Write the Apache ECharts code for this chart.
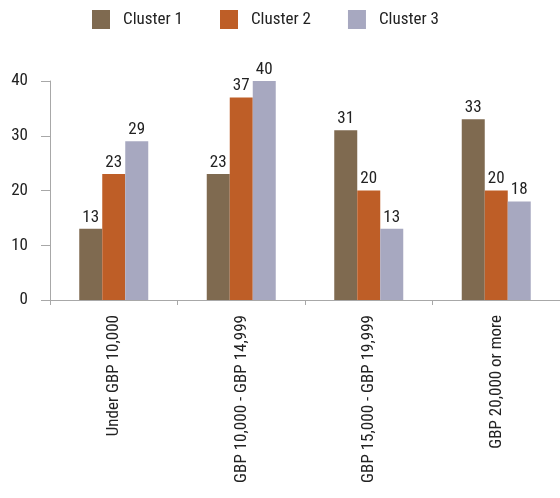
<!DOCTYPE html>
<html>
<head>
<meta charset="utf-8">
<script src="https://cdn.jsdelivr.net/npm/echarts@6/dist/echarts.min.js"></script>
<style>
  html, body { margin: 0; padding: 0; background: #fff; }
  #chart { width: 560px; height: 498px; }
</style>
</head>
<body>
<div id="chart"></div>
<script>
// Income bands and the share of each cluster in them
const categories = ['Under GBP 10,000', 'GBP 10,000 - GBP 14,999', 'GBP 15,000 - GBP 19,999', 'GBP 20,000 or more'];
const seriesNames = ['Cluster 1', 'Cluster 2', 'Cluster 3'];
const cluster1 = [13, 23, 31, 33];
const cluster2 = [23, 37, 20, 20];
const cluster3 = [29, 40, 13, 18];
const yTicks = [0, 10, 20, 30, 40];

const colors = ['#7f6a50', '#be5e27', '#a7a8c0'];
// Roboto's width axis gives a narrow face; 'condensed' goes into the font shorthand
const FONT = 'Roboto, "Liberation Sans", sans-serif';
const STRETCH = 'condensed';
const TEXT = '#222222';
const AXIS = '#a8a8a8';

const chart = echarts.init(document.getElementById('chart'), null, { renderer: 'canvas' });

const values = [cluster1, cluster2, cluster3];
chart.setOption({
  animation: false,
  color: colors,
  textStyle: { fontFamily: FONT, fontWeight: STRETCH },
  legend: {
    top: 10,
    left: 92,
    padding: 0,
    itemWidth: 18,
    itemHeight: 19,
    itemGap: 37,
    icon: 'rect',
    textStyle: { fontFamily: FONT, fontWeight: STRETCH, fontSize: 17, color: TEXT, padding: [0, 0, 0, 8] },
    data: seriesNames
  },
  grid: { left: 50, top: 81, width: 517, bottom: 198, containLabel: false },
  xAxis: {
    type: 'category',
    data: categories,
    axisLine: { lineStyle: { color: AXIS, width: 1 } },
    axisTick: { show: true, length: 5, lineStyle: { color: AXIS } },
    axisLabel: {
      rotate: 90,
      margin: 15,
      fontFamily: FONT,
      fontWeight: STRETCH,
      fontSize: 17,
      color: TEXT
    }
  },
  yAxis: {
    type: 'value',
    min: yTicks[0],
    max: yTicks[yTicks.length - 1],
    interval: 10,
    axisLine: { show: true, lineStyle: { color: AXIS, width: 1 } },
    axisTick: { show: true, length: 9, lineStyle: { color: AXIS } },
    splitLine: { show: false },
    axisLabel: { fontFamily: FONT, fontWeight: STRETCH, fontSize: 17, color: TEXT, margin: 22 }
  },
  series: seriesNames.map((name, i) => ({
    name: name,
    type: 'bar',
    data: values[i],
    barWidth: 23,
    barGap: '0%',
    itemStyle: { color: colors[i] },
    label: {
      show: true,
      position: 'top',
      distance: 3,
      fontFamily: FONT,
      fontWeight: STRETCH,
      fontSize: 17,
      color: TEXT
    }
  }))
});
</script>
</body>
</html>
